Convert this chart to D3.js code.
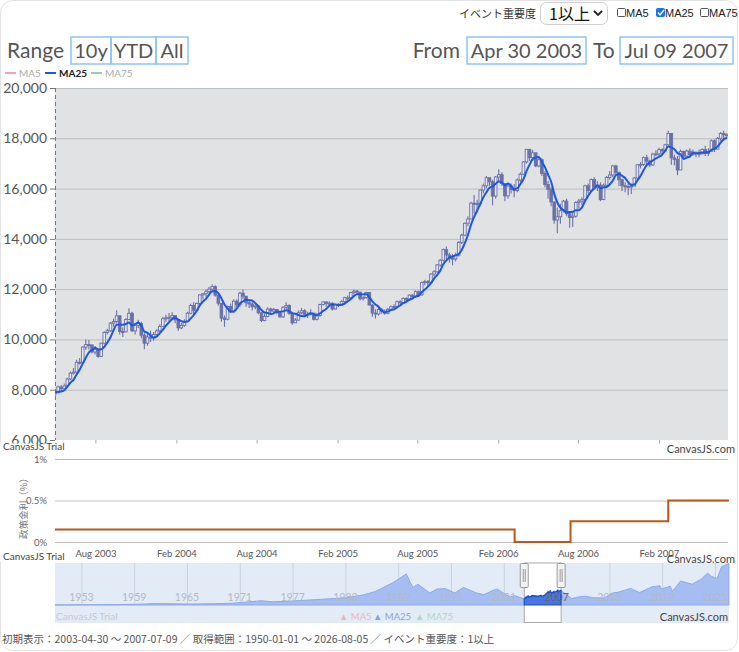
<!DOCTYPE html>
<html>
<head>
<meta charset="utf-8">
<script src="https://cdn.jsdelivr.net/npm/d3@7"></script>
<style>
  body { margin: 0; background: #fff; }
  svg { display: block; font-family: Lato, "Noto Sans", sans-serif; }
  .jp { font-family: "Noto Sans CJK JP", sans-serif; }
</style>
</head>
<body>
<script>
// weekly candles (Fri), May 2003 - Jul 2007, one line per year
var closes = [
  7907, 8110, 8039, 8150, 8425, 8657, 8701, 9092, 9083, 9695, 9794, 9780, 9500, 9600, 9320, 9850, 10280, 10343, 10650, 10712, 10938, 10318, 10300, 10790, 11040, 10340, 10560, 10630, 10170, 9850, 10100, 10050, 10200, 10340, 10520,
  10825, 10860, 10880, 10950, 10780, 10460, 10560, 10720, 11040, 11350, 11160, 11430, 11770, 11820, 11900, 12000, 12100, 11760, 11440, 10850, 10800, 11310, 11100, 11520, 11380, 11840, 11720, 11460, 11410, 11300, 11330, 11060, 10750, 10910, 11210, 11130, 11190, 11080, 10900, 11280, 11350, 11030, 10660, 10770, 11060, 11140, 10980, 11000, 11050, 10800, 10950, 11390, 11490,
  11430, 11440, 11210, 11390, 11360, 11510, 11660, 11660, 11870, 11920, 11880, 11620, 11670, 11870, 11370, 11050, 11010, 11190, 11120, 11040, 11200, 11300, 11310, 11500, 11470, 11630, 11570, 11760, 11690, 11900, 11770, 12260, 12300, 12260, 12600, 12690, 12960, 13150, 13570, 13360, 13230, 13200, 13350, 13860, 14150, 14620, 14790, 15420, 15400, 15400, 15940, 16110,
  16430, 16270, 15700, 16460, 16550, 16200, 15710, 16100, 15960, 15920, 16340, 16570, 17060, 17560, 17230, 17420, 16900, 17150, 16600, 16160, 15970, 15470, 14750, 14880, 15120, 15500, 15000, 14850, 14900, 15450, 15500, 15560, 16110, 15930, 16360, 16060, 16140, 15560, 16130, 16440, 16540, 16900, 16650, 16350, 16110, 16090, 16070, 16100, 16420, 16950, 16960, 17230,
  17090, 16940, 17370, 17380, 17550, 17500, 17740, 18190, 17220, 17160, 16740, 17480, 17290, 17490, 17360, 17450, 17400, 17390, 17550, 17400, 17480, 17900, 17570, 18000, 18190, 18140, 18140
];
var highs = [
  7980, 8160, 8190, 8250, 8480, 8720, 8860, 9190, 9260, 9740, 10000, 9980, 9800, 9740, 9600, 9870, 10330, 10420, 10690, 10820, 11160, 10950, 10480, 10850, 11240, 11100, 10640, 10780, 10700, 10250, 10230, 10350, 10300, 10400, 10600,
  10900, 10980, 11050, 11080, 10960, 10800, 10650, 10800, 11100, 11420, 11480, 11470, 11800, 11850, 11990, 12100, 12195, 12150, 11800, 11300, 10950, 11350, 11430, 11600, 11600, 11900, 11990, 11720, 11600, 11500, 11420, 11380, 11080, 11010, 11270, 11260, 11250, 11220, 11120, 11320, 11480, 11400, 11000, 10850, 11150, 11250, 11200, 11100, 11200, 11050, 11050, 11420, 11520,
  11520, 11520, 11470, 11420, 11450, 11560, 11700, 11750, 11900, 11980, 11970, 11900, 11720, 11900, 11880, 11400, 11200, 11250, 11250, 11200, 11250, 11350, 11400, 11550, 11560, 11680, 11680, 11800, 11800, 11950, 11950, 12300, 12370, 12360, 12630, 12750, 13000, 13200, 13620, 13700, 13450, 13400, 13450, 13900, 14200, 14650, 14900, 15480, 15740, 15560, 15960, 16200,
  16500, 16450, 16350, 16500, 16770, 16650, 16150, 16200, 16200, 16180, 16400, 16650, 17100, 17560, 17500, 17530, 17400, 17300, 17200, 16700, 16300, 16050, 15400, 15250, 15400, 15550, 15600, 15050, 15100, 15500, 15600, 15650, 16150, 16200, 16400, 16450, 16300, 16250, 16200, 16500, 16700, 16950, 16950, 16650, 16400, 16250, 16200, 16200, 16450, 16950, 17050, 17280,
  17350, 17150, 17420, 17520, 17620, 17600, 17780, 18300, 18200, 17350, 17300, 17550, 17500, 17550, 17600, 17550, 17450, 17550, 17600, 17700, 17600, 17950, 17950, 18050, 18250, 18300, 18200
];
var lows = [
  7600, 7850, 7950, 7980, 8080, 8380, 8600, 8740, 9000, 9100, 9580, 9600, 9450, 9400, 9270, 9320, 9800, 10200, 10300, 10500, 10640, 10200, 10100, 10350, 10780, 10300, 10200, 10450, 10050, 9610, 9750, 9900, 9950, 10100, 10300,
  10600, 10700, 10720, 10800, 10650, 10350, 10400, 10500, 10700, 11000, 11000, 11100, 11350, 11600, 11700, 11850, 11900, 11700, 11350, 10700, 10500, 10750, 11050, 11050, 11280, 11300, 11600, 11300, 11250, 11150, 11200, 11000, 10690, 10720, 10880, 11050, 11050, 11000, 10860, 10850, 11200, 10980, 10580, 10650, 10750, 11000, 10900, 10850, 10950, 10750, 10750, 10900, 11350,
  11300, 11280, 11150, 11200, 11290, 11350, 11450, 11550, 11620, 11780, 11800, 11550, 11550, 11620, 11350, 10900, 10830, 10950, 11020, 10980, 11000, 11150, 11200, 11250, 11400, 11420, 11500, 11550, 11600, 11650, 11700, 11750, 12150, 12100, 12200, 12500, 12650, 12900, 13100, 13200, 13050, 12950, 13100, 13300, 13800, 14100, 14500, 14800, 15000, 15050, 15300, 15800,
  16000, 16100, 15340, 15600, 16300, 16100, 15500, 15600, 15800, 15650, 15850, 16250, 16550, 17000, 17100, 17100, 16850, 16850, 16500, 16050, 15600, 15300, 14600, 14220, 14600, 15050, 14900, 14440, 14470, 14850, 15200, 15350, 15550, 15800, 15900, 16000, 15900, 15500, 15550, 16050, 16350, 16450, 16550, 16100, 15900, 15850, 15730, 15780, 16100, 16400, 16800, 16900,
  16950, 16850, 16900, 17300, 17250, 17350, 17450, 17700, 16950, 16930, 16530, 16900, 17200, 17200, 17250, 17300, 17250, 17250, 17350, 17300, 17300, 17450, 17450, 17600, 17900, 17900, 18000
];
var firstOpen = 7830;
var preCloses = [7980, 7990, 7870, 7700];   // Apr 2003, only feeds the MA

var yTicks = [6000, 8000, 10000, 12000, 14000, 16000, 18000, 20000];
var monthTicks = ["2003-08", "2004-02", "2004-08", "2005-02", "2005-08", "2006-02", "2006-08", "2007-02"];

// policy rate steps
var rateDates = ["2003-04-30", "2006-03-09", "2006-07-14", "2007-02-21", "2007-07-09"];
var rateValues = [0.15, 0, 0.25, 0.5, 0.5];
var rateTicks = [0, 0.5, 1];

// navigator, long history
var navDates = ["1950-01", "1953-01", "1957-01", "1959-06", "1961-07", "1965-06", "1968-01", "1970-03", "1972-12", "1973-06", "1974-10", "1977-01", "1980-01",
  "1983-01", "1985-01", "1986-06", "1987-09", "1988-06", "1989-12", "1990-09", "1991-04", "1992-08", "1993-06", "1994-06", "1995-06", "1996-06", "1997-12",
  "1998-10", "1999-12", "2000-04", "2001-09", "2002-05", "2003-04", "2004-04", "2005-01", "2006-04", "2007-07", "2008-10", "2009-06", "2010-04", "2011-04",
  "2012-06", "2013-05", "2014-01", "2015-06", "2016-06", "2017-11", "2018-10", "2018-12", "2019-12", "2020-03", "2021-02", "2022-06", "2023-07", "2024-03",
  "2024-08", "2025-04", "2025-10", "2026-08"];
var navValues = [100, 350, 550, 900, 1800, 1200, 1600, 2200, 4800, 5300, 4000, 5000, 7000,
  9000, 12500, 17000, 24000, 28000, 38900, 22000, 26000, 15000, 20000, 20500, 15000, 22000, 15000,
  13000, 18900, 20000, 10000, 11500, 7800, 12000, 11500, 17500, 18100, 8000, 10000, 11000, 9000,
  8700, 15000, 16000, 20800, 15500, 22800, 24000, 20000, 23600, 17000, 30000, 26000, 33000, 40000,
  36000, 33000, 48000, 52000];
var navYears = [1953, 1959, 1965, 1971, 1977, 1983, 1989, 1995, 2001, 2007, 2013, 2019, 2025];

var W = 739, H = 652;
var parseDay = d3.timeParse("%Y-%m-%d"), parseMonth = d3.timeParse("%Y-%m");
var left = 55, right = 728;

var svg = d3.select("body").append("svg").attr("width", W).attr("height", H);

// card outline
svg.append("rect").attr("x", 0.5).attr("y", 0.5).attr("width", 737).attr("height", 650)
  .attr("rx", 12).attr("fill", "none").attr("stroke", "#e3e3e3");

// ---- top controls
svg.append("text").attr("class", "jp").attr("x", 459).attr("y", 18).attr("font-size", 11).attr("fill", "#333").text("イベント重要度");
svg.append("rect").attr("x", 540.5).attr("y", 2.5).attr("width", 67).attr("height", 22).attr("rx", 6)
  .attr("fill", "#fff").attr("stroke", "#cfcfcf");
svg.append("text").attr("class", "jp").attr("x", 549).attr("y", 20).attr("font-size", 16).attr("fill", "#111").text("1以上");
svg.append("path").attr("d", "M594,11 l4,4 l4,-4").attr("fill", "none").attr("stroke", "#222").attr("stroke-width", 1.8);

var boxes = [{x: 617, t: "MA5", on: false}, {x: 656, t: "MA25", on: true}, {x: 700, t: "MA75", on: false}];
boxes.forEach(function(b) {
  svg.append("rect").attr("x", b.x + 0.5).attr("y", 8.5).attr("width", 8).attr("height", 8).attr("rx", 1)
    .attr("fill", b.on ? "#1a73e8" : "#fff").attr("stroke", b.on ? "#1a73e8" : "#555");
  if (b.on) svg.append("path").attr("d", "M" + (b.x + 2) + ",12.5 l2,2.5 l4,-5").attr("fill", "none").attr("stroke", "#fff").attr("stroke-width", 1.4);
  svg.append("text").attr("x", b.x + 9).attr("y", 17).attr("font-size", 11).attr("font-family", "Liberation Sans, Arial")
    .attr("fill", "#222").text(b.t);
});

// ---- range row
svg.append("text").attr("x", 7).attr("y", 58).attr("font-size", 21).attr("fill", "#555").text("Range");
var btns = [{x: 71, w: 40, t: "10y"}, {x: 111, w: 45, t: "YTD"}, {x: 156, w: 32, t: "All"}];
btns.forEach(function(b) {
  svg.append("rect").attr("x", b.x).attr("y", 37).attr("width", b.w).attr("height", 27)
    .attr("fill", "none").attr("stroke", "#8cc4f4").attr("stroke-width", 1.5);
  svg.append("text").attr("x", b.x + b.w / 2).attr("y", 58).attr("text-anchor", "middle")
    .attr("font-size", 20).attr("fill", "#555").text(b.t);
});
svg.append("text").attr("x", 460).attr("y", 58).attr("text-anchor", "end").attr("font-size", 21).attr("fill", "#555").text("From");
svg.append("rect").attr("x", 467).attr("y", 37).attr("width", 119).attr("height", 27).attr("fill", "none").attr("stroke", "#8cc4f4").attr("stroke-width", 1.5);
svg.append("text").attr("x", 526.5).attr("y", 58).attr("text-anchor", "middle").attr("font-size", 20).attr("fill", "#555").text("Apr 30 2003");
svg.append("text").attr("x", 593).attr("y", 58).attr("font-size", 21).attr("fill", "#555").text("To");
svg.append("rect").attr("x", 620).attr("y", 37).attr("width", 113).attr("height", 27).attr("fill", "none").attr("stroke", "#8cc4f4").attr("stroke-width", 1.5);
svg.append("text").attr("x", 676.5).attr("y", 58).attr("text-anchor", "middle").attr("font-size", 20).attr("fill", "#555").text("Jul 09 2007");

// ---- legend
var legend = [{x: 5, t: "MA5", c: "#f4a3a6", tc: "#aaa", b: "normal"},
              {x: 45, t: "MA25", c: "#1c56e8", tc: "#222", b: "bold"},
              {x: 91, t: "MA75", c: "#8ed3a6", tc: "#aaa", b: "normal"}];
legend.forEach(function(l) {
  svg.append("line").attr("x1", l.x).attr("x2", l.x + 11).attr("y1", 73).attr("y2", 73).attr("stroke", l.c).attr("stroke-width", 2);
  svg.append("text").attr("x", l.x + 14).attr("y", 77).attr("font-size", 10).attr("font-weight", l.b).attr("fill", l.tc).text(l.t);
});

// ---- main candle chart
var x = d3.scaleTime().domain([parseDay("2003-04-30"), parseDay("2007-07-09")]).range([left, 729]);
var y = d3.scaleLinear().domain([6000, 20000]).range([440, 88]);

svg.append("rect").attr("x", left).attr("y", 88).attr("width", right - left).attr("height", 352).attr("fill", "#e1e2e4");
svg.append("g").selectAll("line").data(yTicks.slice(1)).join("line")
  .attr("x1", left).attr("x2", right).attr("y1", function(d) { return y(d) + 0.5; }).attr("y2", function(d) { return y(d) + 0.5; })
  .attr("stroke", "#bdbdbd");

var yAxis = svg.append("g").attr("transform", "translate(" + left + ",0)")
  .call(d3.axisLeft(y).tickValues(yTicks).tickFormat(d3.format(",")).tickSize(5).tickPadding(3));
yAxis.select(".domain").remove();
yAxis.selectAll("line").attr("stroke", "#777");
yAxis.selectAll("text").attr("font-size", 14).attr("fill", "#555").attr("font-family", "Lato");
svg.append("line").attr("x1", left + 0.5).attr("x2", left + 0.5).attr("y1", 88).attr("y2", 440)
  .attr("stroke", "#777").attr("stroke-dasharray", "4,3");

svg.append("clipPath").attr("id", "plotClip").append("rect").attr("x", left).attr("y", 88).attr("width", right - left).attr("height", 352);

var weeks = d3.timeFriday.range(new Date(2003, 4, 1), new Date(2007, 6, 7));
var candles = closes.map(function(c, i) {
  var o = i ? closes[i - 1] : firstOpen;
  return {date: d3.timeDay.offset(weeks[i], -2), o: o, c: c,
          h: Math.max(highs[i], o, c), l: Math.min(lows[i], o, c)};
});
var allCloses = preCloses.concat(closes);
var ma25 = candles.map(function(d, i) { return {date: d.date, v: d3.mean(allCloses.slice(i, i + 5))}; });

var cg = svg.append("g").attr("clip-path", "url(#plotClip)");
var candleColor = "#6a71a6";
cg.selectAll("line.wick").data(candles).join("line").attr("class", "wick")
  .attr("x1", function(d) { return x(d.date); }).attr("x2", function(d) { return x(d.date); })
  .attr("y1", function(d) { return y(d.h); }).attr("y2", function(d) { return y(d.l); })
  .attr("stroke", candleColor).attr("stroke-width", 1.1);
cg.selectAll("rect.body").data(candles).join("rect").attr("class", "body")
  .attr("x", function(d) { return x(d.date) - 1.3; }).attr("width", 2.6)
  .attr("y", function(d) { return y(Math.max(d.o, d.c)); })
  .attr("height", function(d) { return Math.max(1, Math.abs(y(d.o) - y(d.c))); })
  .attr("fill", function(d) { return d.c >= d.o ? "#e9e9f0" : candleColor; })
  .attr("stroke", candleColor).attr("stroke-width", 0.9);

cg.append("path").datum(ma25)
  .attr("d", d3.line().x(function(d) { return x(d.date); }).y(function(d) { return y(d.v); }).curve(d3.curveMonotoneX))
  .attr("fill", "none").attr("stroke", "#1c56e8").attr("stroke-width", 2);

var tickDates = monthTicks.map(parseMonth);
svg.append("g").selectAll("line").data(tickDates).join("line")
  .attr("x1", function(d) { return x(d); }).attr("x2", function(d) { return x(d); })
  .attr("y1", 440).attr("y2", 444).attr("stroke", "#aaa");

// ---- policy rate chart
svg.append("rect").attr("x", 0).attr("y", 443.5).attr("width", 736).attr("height", 118).attr("fill", "#fff");
var y2 = d3.scaleLinear().domain([0, 1]).range([542, 459]);
svg.append("g").selectAll("line").data(rateTicks).join("line")
  .attr("x1", left).attr("x2", right)
  .attr("y1", function(d) { return y2(d) + 0.5; }).attr("y2", function(d) { return y2(d) + 0.5; })
  .attr("stroke", function(d) { return d === 0.5 ? "#e0e0e0" : "#bbb"; })
  .attr("stroke-width", function(d) { return d === 0.5 ? 2 : 1; });
svg.append("g").selectAll("text").data(rateTicks).join("text")
  .attr("x", 47).attr("y", function(d) { return y2(d) + 3.5; }).attr("text-anchor", "end")
  .attr("font-size", 9.5).attr("fill", "#666").text(function(d) { return d + "%"; });
svg.append("text").attr("class", "jp").attr("transform", "translate(27,506) rotate(-90)").attr("text-anchor", "middle")
  .attr("font-size", 9.5).attr("fill", "#777").text("政策金利（%）");

var rate = rateDates.map(function(d, i) { return {date: parseDay(d), v: rateValues[i]}; });
svg.append("path").datum(rate)
  .attr("d", d3.line().x(function(d) { return x(d.date); }).y(function(d) { return y2(d.v); }).curve(d3.curveStepAfter))
  .attr("fill", "none").attr("stroke", "#b9571d").attr("stroke-width", 2);

svg.append("g").selectAll("text").data(tickDates).join("text")
  .attr("x", function(d) { return x(d); }).attr("y", 557).attr("text-anchor", "middle")
  .attr("font-size", 9.5).attr("fill", "#555").text(d3.timeFormat("%b %Y"));

// watermark texts
[[3, 450], [3, 560]].forEach(function(p) {
  svg.append("text").attr("x", p[0]).attr("y", p[1]).attr("font-size", 10).attr("fill", "#444").text("CanvasJS Trial");
});
[[735, 453], [735, 563]].forEach(function(p) {
  svg.append("text").attr("x", p[0]).attr("y", p[1]).attr("text-anchor", "end").attr("font-size", 11).attr("fill", "#444").text("CanvasJS.com");
});

// ---- navigator
var xn = d3.scaleTime().domain([parseDay("1950-01-01"), parseDay("2026-08-05")]).range([left, 729]);
var yn = d3.scaleLinear().domain([0, 52600]).range([605, 563]);
svg.append("rect").attr("x", left).attr("y", 563).attr("width", 674).attr("height", 60).attr("fill", "#e3ebf7");
var selX0 = xn(parseDay("2003-04-30")), selX1 = xn(parseDay("2007-07-09"));
var yearDates = navYears.map(function(d) { return new Date(d, 0, 1); });
svg.append("g").selectAll("line").data(yearDates).join("line")
  .attr("x1", function(d) { return xn(d) + 0.5; }).attr("x2", function(d) { return xn(d) + 0.5; })
  .attr("y1", 563).attr("y2", 605).attr("stroke", "#c9d3df");

var nav = navDates.map(function(d, i) { return {date: parseMonth(d), v: navValues[i]}; });
var navArea = d3.area().x(function(d) { return xn(d.date); }).y0(605).y1(function(d) { return yn(d.v); });
svg.append("path").datum(nav).attr("d", navArea).attr("fill", "#a5bdf0").attr("stroke", "#8fa9ea").attr("stroke-width", 1);

svg.append("rect").attr("x", selX0).attr("y", 563).attr("width", selX1 - selX0).attr("height", 59.5)
  .attr("fill", "#fff").attr("stroke", "#aaa");
svg.append("path").datum(candles)
  .attr("d", d3.area().x(function(d) { return xn(d.date); }).y0(605).y1(function(d) { return yn(d.c); }))
  .attr("fill", "#4a74e0").attr("stroke", "#1f4fc9").attr("stroke-width", 1.2);

svg.append("g").selectAll("text").data(yearDates).join("text")
  .attr("x", function(d) { return xn(d); }).attr("y", 601).attr("text-anchor", "middle")
  .attr("font-size", 10.5).attr("fill", function(d) { return d.getFullYear() === 2007 ? "#666" : "#b3b9c4"; })
  .text(function(d) { return d.getFullYear(); });

[selX0, selX1].forEach(function(hx) {
  svg.append("rect").attr("x", hx - 4).attr("y", 563.5).attr("width", 8).attr("height", 24).attr("rx", 1)
    .attr("fill", "#f3f3f3").attr("stroke", "#999");
  svg.append("line").attr("x1", hx - 1).attr("x2", hx - 1).attr("y1", 569).attr("y2", 582).attr("stroke", "#999");
  svg.append("line").attr("x1", hx + 1).attr("x2", hx + 1).attr("y1", 569).attr("y2", 582).attr("stroke", "#999");
});

svg.append("text").attr("x", 56).attr("y", 620).attr("font-size", 10).attr("fill", "#c3cad4").text("CanvasJS Trial");
var navLegend = [{x: 339, t: "▲ MA5", c: "#e9b7bb"}, {x: 373, t: "▲ MA25", c: "#8ba2d6"}, {x: 415, t: "▲ MA75", c: "#b2d7c2"}];
navLegend.forEach(function(l) {
  svg.append("text").attr("x", l.x).attr("y", 620).attr("font-size", 9.5).attr("fill", l.c).text(l.t);
});
svg.append("text").attr("x", 728).attr("y", 621).attr("text-anchor", "end").attr("font-size", 11).attr("fill", "#444").text("CanvasJS.com");

// ---- footer
svg.append("text").attr("class", "jp").attr("x", 2).attr("y", 643).attr("font-size", 10.5).attr("fill", "#555")
  .text("初期表示：2003-04-30 〜 2007-07-09 ／ 取得範囲：1950-01-01 〜 2026-08-05 ／ イベント重要度：1以上");
</script>
</body>
</html>
